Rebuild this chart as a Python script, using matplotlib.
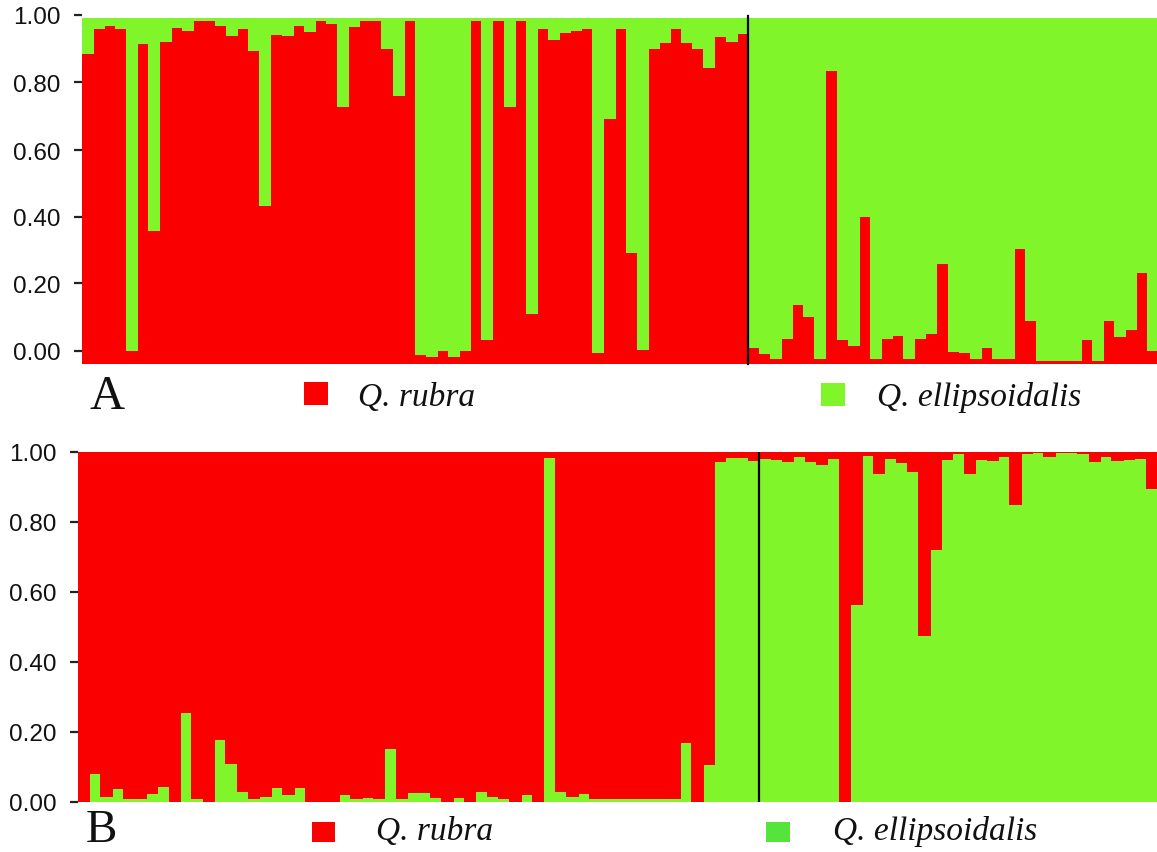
import matplotlib
matplotlib.use("Agg")
import matplotlib.pyplot as plt
from matplotlib.patches import Rectangle
import numpy as np

# ---------------- data ----------------
# Panel A: proportion of Q. rubra ancestry (red, bottom); remainder Q. ellipsoidalis (green, top)
a_rubra_left = [0.898, 0.971, 0.981, 0.971, 0.041, 0.927, 0.387, 0.933, 0.975, 0.966,
                0.994, 0.994, 0.981, 0.951, 0.971, 0.908, 0.460, 0.954, 0.951, 0.981,
                0.963, 0.994, 0.986, 0.747, 0.978, 0.994, 0.994, 0.913, 0.778, 0.994,
                0.029, 0.024, 0.040, 0.022, 0.040, 0.994, 0.072, 0.994, 0.745, 0.994,
                0.147, 0.971, 0.939, 0.959, 0.965, 0.971, 0.036, 0.711, 0.971, 0.323,
                0.043, 0.913, 0.932, 0.971, 0.930, 0.913, 0.857, 0.949, 0.934, 0.956]
a_rubra_right = [0.050, 0.031, 0.017, 0.075, 0.173, 0.140, 0.017, 0.851, 0.072, 0.056,
                 0.429, 0.017, 0.075, 0.085, 0.017, 0.075, 0.089, 0.291, 0.039, 0.036,
                 0.017, 0.050, 0.017, 0.016, 0.334, 0.127, 0.0125, 0.0125, 0.0125, 0.0125,
                 0.072, 0.0125, 0.127, 0.082, 0.101, 0.267, 0.040]

# Panel B: proportion of Q. ellipsoidalis ancestry (green, bottom); remainder Q. rubra (red, top)
b_ellip_left = [0.0, 0.081, 0.017, 0.040, 0.0115, 0.0115, 0.024, 0.045, 0.0, 0.257,
                0.0096, 0.0, 0.179, 0.110, 0.032, 0.010, 0.016, 0.041, 0.021, 0.043,
                0.0, 0.0, 0.0, 0.021, 0.0115, 0.014, 0.0096, 0.153, 0.0096, 0.029,
                0.027, 0.014, 0.0, 0.014, 0.0, 0.031, 0.017, 0.0096, 0.0, 0.021,
                0.0, 0.985, 0.031, 0.017, 0.024, 0.0115, 0.0115, 0.0115, 0.0115, 0.0115,
                0.0115, 0.0115, 0.0115, 0.171, 0.0, 0.108, 0.973, 0.985, 0.985, 0.976]
b_ellip_right = [0.983, 0.980, 0.973, 0.988, 0.973, 0.966, 0.983, 0.0, 0.566, 0.992,
                 0.940, 0.983, 0.970, 0.944, 0.475, 0.721, 0.978, 0.997, 0.940, 0.978,
                 0.975, 0.988, 0.851, 0.995, 1.0, 0.988, 1.0, 1.0, 0.995, 0.973,
                 0.988, 0.976, 0.980, 0.982, 0.896]

tick_labels = ["0.00", "0.20", "0.40", "0.60", "0.80", "1.00"]
species = ["Q. rubra", "Q. ellipsoidalis"]
panel_labels = ["A", "B"]

RED = "#fb0000"
GREEN = "#7ff52a"
GREEN_B_LEG = "#55e43c"

W, H = 1157, 853
fig = plt.figure(figsize=(W / 100, H / 100), dpi=100)
fig.patch.set_facecolor("white")


def px_rect(x0, y0, x1, y1):
    """pixel box (top-left origin) -> figure fraction rect"""
    return [x0 / W, 1 - y1 / H, (x1 - x0) / W, (y1 - y0) / H]


def style_axis(ax):
    for s in ax.spines.values():
        s.set_visible(False)
    ax.set_xticks([])
    ax.tick_params(axis="y", direction="out", length=6, width=1.6, color="#222222",
                   pad=9, labelsize=17.5, labelcolor="#111111")
    for lab in ax.get_yticklabels():
        lab.set_fontfamily("Liberation Sans")


def stacked(ax, x, low, low_color, high_color):
    b1 = ax.bar(x, low, width=1.0, align="edge", color=low_color,
                edgecolor=low_color, linewidth=0.6)
    b2 = ax.bar(x, 1 - low, bottom=low, width=1.0, align="edge", color=high_color,
                edgecolor=high_color, linewidth=0.6)
    for p in list(b1) + list(b2):
        p.set_antialiased(False)


# ---------------- Panel A ----------------
a_vals = np.array(a_rubra_left + a_rubra_right)
nA = len(a_vals)
bwA = 11.1
axA = fig.add_axes(px_rect(81.7, 16, W, 365))
axA.set_facecolor(GREEN)
stacked(axA, np.arange(nA), a_vals, RED, GREEN)
axA.set_xlim(0, (W - 81.7) / bwA)
axA.set_ylim(0, 349 / 346)
axA.patch.set_visible(False)
# tick positions as drawn in the original figure
tick_px_A = [352, 284.3, 217.7, 151, 83.3, 16]
axA.set_yticks([(365 - p) / 346 for p in tick_px_A])
axA.set_yticklabels(tick_labels)
axA.plot([len(a_rubra_left)] * 2, [0, 348 / 346], color="black", lw=1.6, clip_on=False)
style_axis(axA)

# ---------------- Panel B ----------------
b_vals = np.array(b_ellip_left + b_ellip_right)
nB = len(b_vals)
bwB = 11.36
axB = fig.add_axes(px_rect(77.7, 452.7, W, 802.7))
stacked(axB, np.arange(nB), b_vals, GREEN, RED)
axB.set_xlim(0, (W - 77.7) / bwB)
axB.set_ylim(0, 1)
axB.set_yticks([0, 0.2, 0.4, 0.6, 0.8, 1.0])
axB.set_yticklabels(tick_labels)
axB.axvline(len(b_ellip_left), color="black", lw=1.6)
style_axis(axB)

# ---------------- legends & panel labels ----------------
def fig_sq(x0, y0, x1, y1, color):
    r = px_rect(x0, y0, x1, y1)
    fig.patches.append(Rectangle((r[0], r[1]), r[2], r[3], transform=fig.transFigure,
                                 facecolor=color, edgecolor="none"))


def fig_txt(x, y, s, va="baseline", **kw):
    fig.text(x / W, 1 - y / H, s, va=va, ha="left", **kw)


# Panel A
fig_txt(89, 409, panel_labels[0], fontsize=35, family="Liberation Serif", color="#111111")
fig_sq(304, 383, 328, 406, RED)
fig_txt(358, 406, species[0], fontsize=24, family="Liberation Serif", style="italic",
        color="#111111")
fig_sq(821, 384, 845, 407, GREEN)
fig_txt(877, 406, species[1], fontsize=24, family="Liberation Serif", style="italic",
        color="#111111")

# Panel B
fig_txt(86, 852, panel_labels[1], va="bottom", fontsize=34, family="Liberation Serif",
        color="#111111")
fig_sq(312, 823, 335, 843, RED)
fig_txt(376, 840, species[0], fontsize=24, family="Liberation Serif", style="italic",
        color="#111111")
fig_sq(766, 823, 790, 843, GREEN_B_LEG)
fig_txt(833, 840, species[1], fontsize=24, family="Liberation Serif", style="italic",
        color="#111111")

fig.savefig("out.png", dpi=100, facecolor="white")
